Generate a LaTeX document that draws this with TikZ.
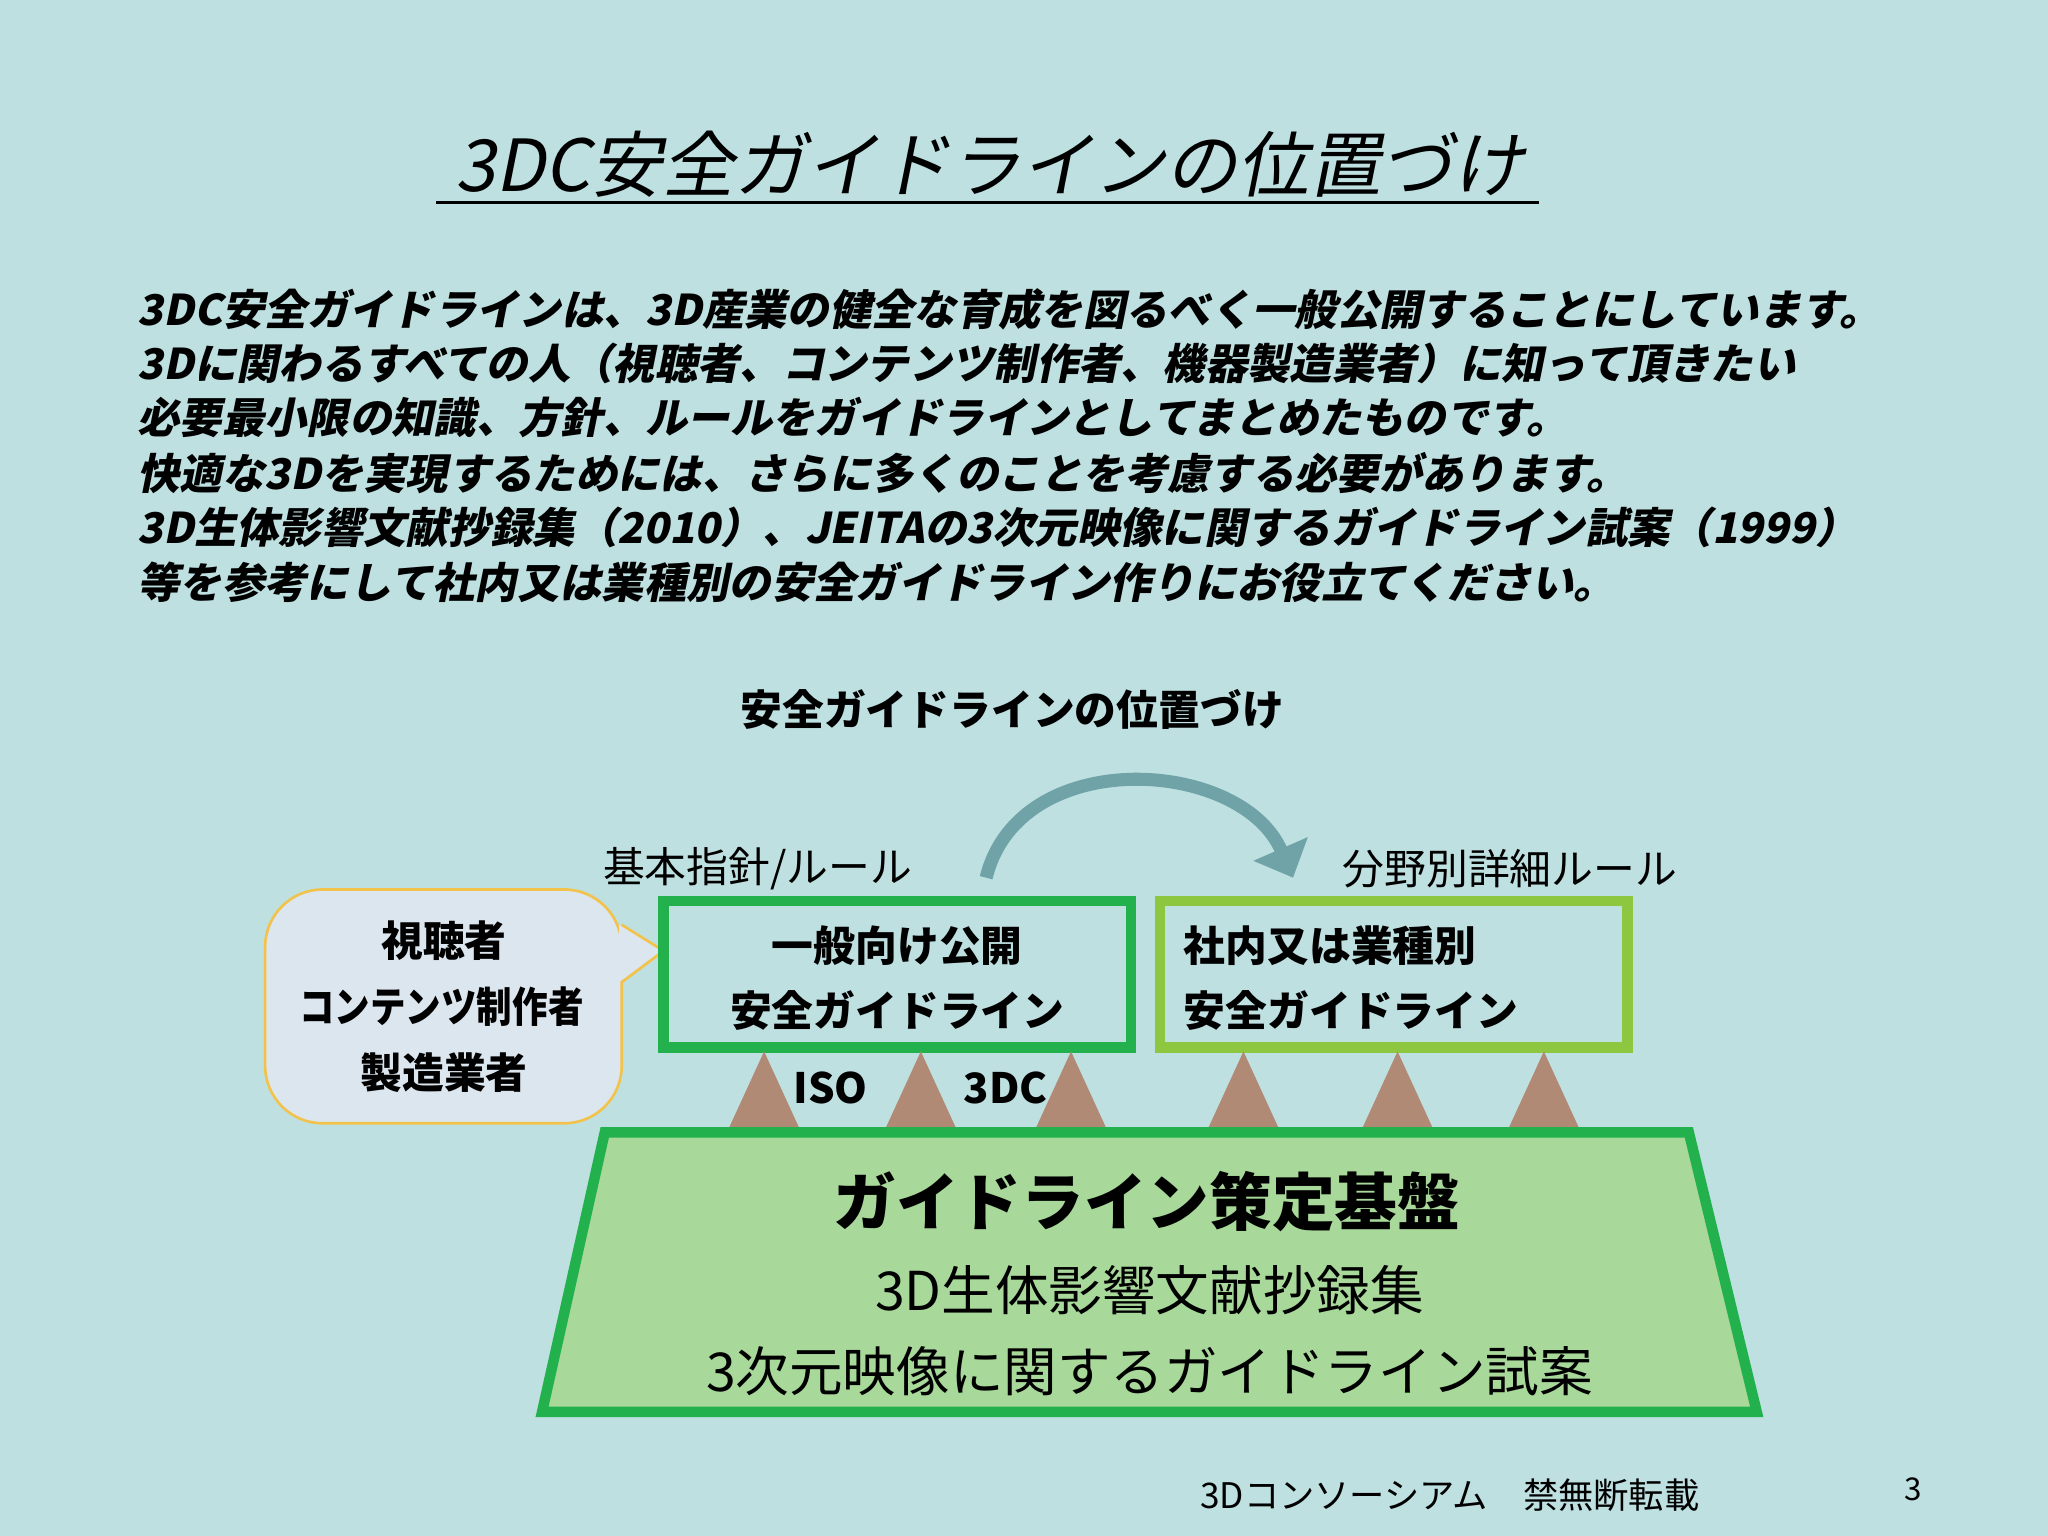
\documentclass[tikz,border=0pt]{standalone}
\usepackage{fontspec}
\usetikzlibrary{arrows.meta}
\newfontfamily\jp{Noto Sans CJK JP}
\newfontfamily\jpsl[FakeSlant=0.2]{Noto Sans CJK JP}
\definecolor{bg}{HTML}{BEE0E0}
\definecolor{gA}{HTML}{22B14C}
\definecolor{gB}{HTML}{8DC63F}
\definecolor{tri}{HTML}{B08A74}
\definecolor{base}{HTML}{A8D89A}
\definecolor{call}{HTML}{DCE6EE}
\definecolor{callb}{HTML}{F2C24A}
\definecolor{arr}{HTML}{6FA3A8}
\tikzset{para/.style={anchor=west,inner sep=0,font=\jpsl\bfseries\fontsize{16.2}{18}\selectfont},
 lbl/.style={inner sep=0,font=\jp\fontsize{16}{19}\selectfont},
 blbl/.style={inner sep=0,font=\jp\bfseries\fontsize{16}{19}\selectfont},
 trig/.style={fill=tri,draw=none}}
\begin{document}
\begin{tikzpicture}[x=0.5pt,y=-0.5pt]
\fill[bg] (0,0) rectangle (1568,1176);
\useasboundingbox (0,0) rectangle (1568,1176);
\node[inner sep=0,font=\jpsl\fontsize{27.5}{30}\selectfont] (title) at (758,126) {3DC安全ガイドラインの位置づけ};
\draw[line width=1.2pt] (334,155) -- (1178,155);
\node[para] (p1) at (105,237) {3DC安全ガイドラインは、3D産業の健全な育成を図るべく一般公開することにしています。};
\node[para] (p2) at (105,278) {3Dに関わるすべての人（視聴者、コンテンツ制作者、機器製造業者）に知って頂きたい};
\node[para] (p3) at (105,320) {必要最小限の知識、方針、ルールをガイドラインとしてまとめたものです。};
\node[para] (p4) at (105,362) {快適な3Dを実現するためには、さらに多くのことを考慮する必要があります。};
\node[para] (p5) at (105,404) {3D生体影響文献抄録集（2010）、JEITAの3次元映像に関するガイドライン試案（1999）};
\node[para] (p6) at (105,446) {等を参考にして社内又は業種別の安全ガイドライン作りにお役立てください。};
\node[blbl] (sub) at (775,543) {安全ガイドラインの位置づけ};
\node[lbl] (l1) at (580,665) {基本指針/ルール};
\node[lbl] (l2) at (1156,665) {分野別詳細ルール};
\coordinate (a1) at (755,672); \coordinate (a2) at (990,672);
\draw[arr,line width=5pt,-{Triangle[width=22pt,length=12pt]}] (a1) .. controls (780,570) and (950,580) .. (a2);
% callout
\draw[callb,fill=call,line width=1pt,rounded corners=22pt] (203,681) rectangle (476,860);
\fill[call] (474,708) -- (508,728) -- (474,752) -- cycle;
\draw[callb,line width=1pt] (476,708) -- (508,728) -- (476,752);
\node[blbl] (c1) at (340,720) {視聴者};
\node[blbl,xscale=0.85] (c2) at (338,771) {コンテンツ制作者};
\node[blbl] (c3) at (340,821) {製造業者};
% boxes
\draw[gA,line width=4pt] (508,690) rectangle (866,802);
\node[blbl] (b1a) at (687,724) {一般向け公開};
\node[blbl] (b1b) at (687,774) {安全ガイドライン};
\draw[gB,line width=4pt] (888,690) rectangle (1246,802);
\node[blbl,anchor=west] (b2a) at (906,724) {社内又は業種別};
\node[blbl,anchor=west] (b2b) at (906,774) {安全ガイドライン};
% triangles
\foreach \c in {585,705,820,952,1070,1182}{\fill[tri] (\c-28,866) -- (\c,805) -- (\c+28,866) -- cycle;}
\node[blbl] (iso) at (636,833) {ISO};
\node[blbl] (tdc) at (770,833) {3DC};
% base
\draw[gA,fill=base,line width=4pt] (463,867) -- (1293,867) -- (1345,1081) -- (415,1081) -- cycle;
\node[inner sep=0,font=\jp\bfseries\fontsize{24}{28}\selectfont] (t1) at (878,920) {ガイドライン策定基盤};
\node[inner sep=0,font=\jp\fontsize{20.5}{24}\selectfont] (t2) at (880,988) {3D生体影響文献抄録集};
\node[inner sep=0,font=\jp\fontsize{20.5}{24}\selectfont] (t3) at (880,1050) {3次元映像に関するガイドライン試案};
\node[inner sep=0,font=\jp\fontsize{13.5}{16}\selectfont] (f1) at (1110,1145) {3Dコンソーシアム\quad 禁無断転載};
\node[inner sep=0,font=\jp\fontsize{12}{14}\selectfont] (pg) at (1465,1140) {3};
\end{tikzpicture}
\end{document}
